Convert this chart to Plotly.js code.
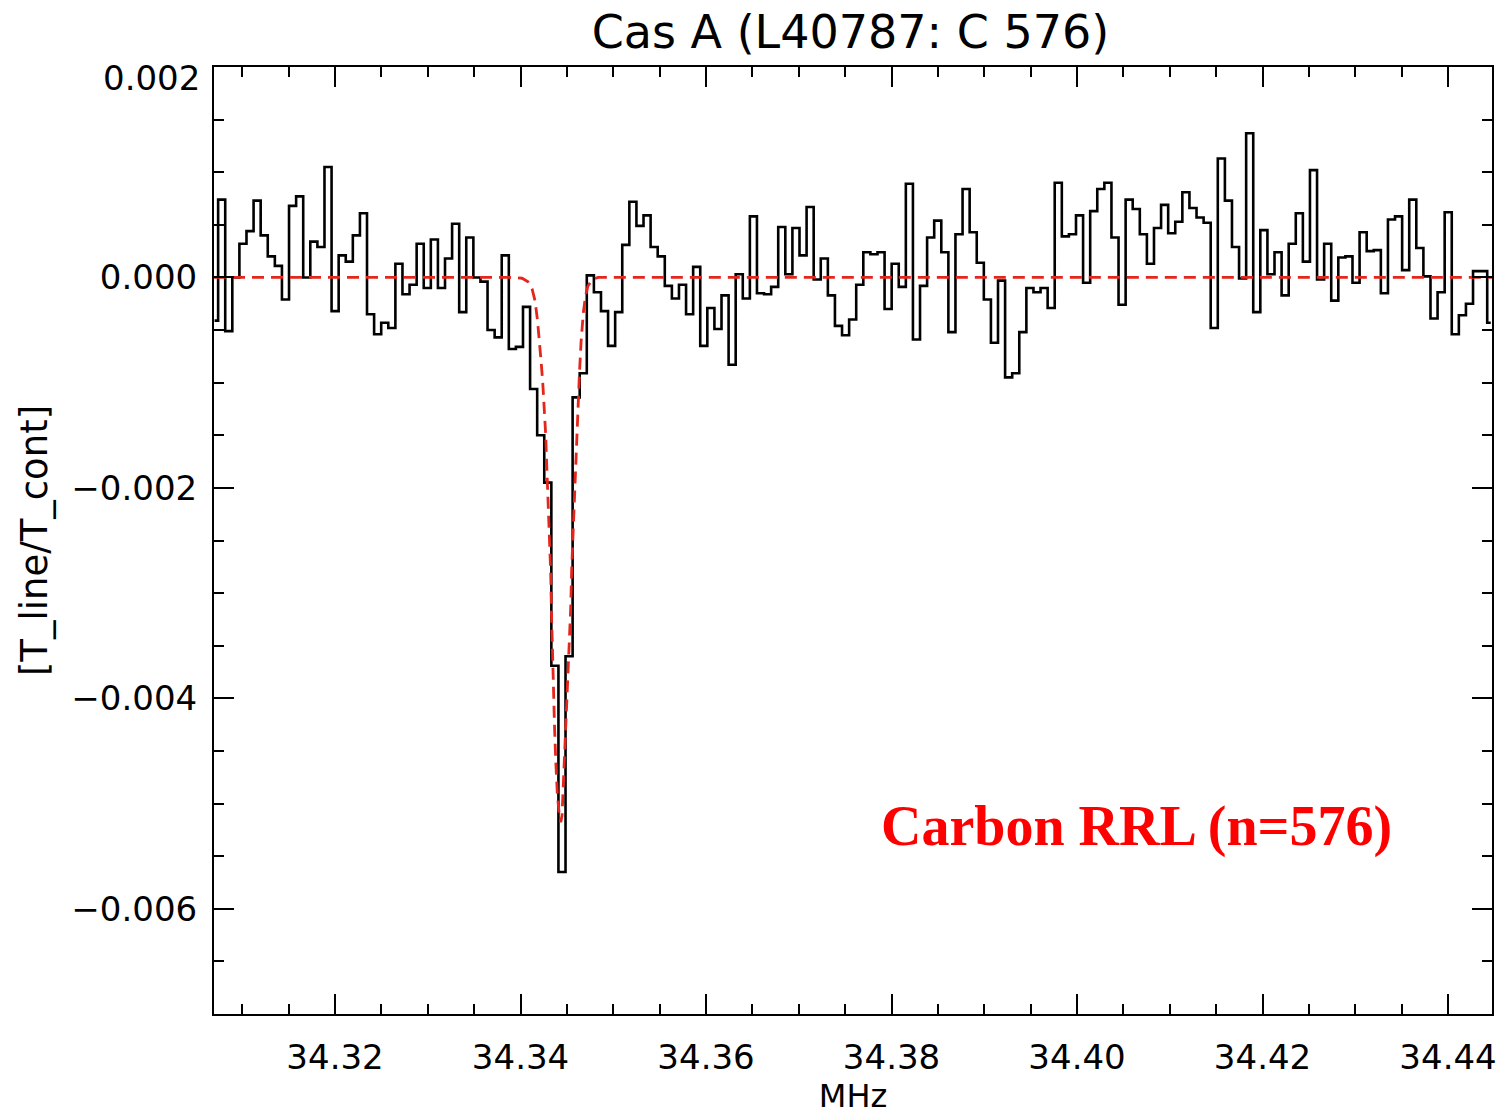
<!DOCTYPE html>
<html>
<head>
<meta charset="utf-8">
<script src="https://cdn.plot.ly/plotly-3.0.1.min.js"></script>
<style>
  html, body { margin: 0; padding: 0; background: #ffffff; }
  #chart { width: 1503px; height: 1116px; }
</style>
</head>
<body>
<div id="chart"></div>
<script>
// ---- Data ----
// Channel grid (MHz): centre of first channel and channel width
const firstChannelMHz = 34.307013;
const channelWidthMHz = 0.0007644;

// Spectrum: T_line/T_cont per channel
const lineToCont = [
  -0.00041, 0.00074, -0.00051, 0.00000, 0.00032, 0.00044, 0.00073, 0.00040, 0.00020, 0.00011,
  -0.00021, 0.00068, 0.00077, 0.00000, 0.00034, 0.00029, 0.00105, -0.00032, 0.00021, 0.00015,
  0.00040, 0.00061, -0.00035, -0.00054, -0.00043, -0.00048, 0.00013, -0.00016, -0.00007, 0.00032,
  -0.00010, 0.00036, -0.00010, 0.00018, 0.00051, -0.00033, 0.00038, 0.00000, -0.00004, -0.00050,
  -0.00057, 0.00021, -0.00068, -0.00066, -0.00028, -0.00106, -0.00150, -0.00195, -0.00369, -0.00565,
  -0.00360, -0.00114, -0.00091, 0.00002, -0.00014, -0.00032, -0.00065, -0.00033, 0.00031, 0.00072,
  0.00049, 0.00059, 0.00029, 0.00020, -0.00008, -0.00020, -0.00007, -0.00035, 0.00010, -0.00065,
  -0.00029, -0.00049, -0.00017, -0.00083, 0.00003, -0.00020, 0.00058, -0.00015, -0.00016, -0.00009,
  0.00048, 0.00003, 0.00047, 0.00021, 0.00067, -0.00002, 0.00018, -0.00017, -0.00046, -0.00055,
  -0.00040, -0.00007, 0.00024, 0.00022, 0.00024, -0.00030, 0.00013, -0.00009, 0.00089, -0.00059,
  -0.00008, 0.00038, 0.00054, 0.00024, -0.00052, 0.00041, 0.00084, 0.00043, 0.00014, -0.00021,
  -0.00062, -0.00003, -0.00095, -0.00091, -0.00052, -0.00010, -0.00014, -0.00010, -0.00029, 0.00090,
  0.00039, 0.00041, 0.00059, -0.00005, 0.00063, 0.00084, 0.00090, 0.00038, -0.00026, 0.00074,
  0.00065, 0.00041, 0.00013, 0.00047, 0.00069, 0.00042, 0.00053, 0.00081, 0.00066, 0.00057,
  0.00052, -0.00048, 0.00113, 0.00073, 0.00029, -0.00001, 0.00137, -0.00033, 0.00045, 0.00003,
  0.00024, -0.00017, 0.00032, 0.00061, 0.00015, 0.00102, -0.00002, 0.00032, -0.00022, 0.00019,
  0.00020, -0.00005, 0.00043, 0.00025, 0.00026, -0.00015, 0.00055, 0.00058, 0.00007, 0.00074,
  0.00028, 0.00001, -0.00039, -0.00014, 0.00062, -0.00054, -0.00036, -0.00025, 0.00006, 0.00006,
  -0.00043
];

// Fitted line profile (red dashed)
const fitMHz = [
  34.30695, 34.338868, 34.340162, 34.340809, 34.341240, 34.341563, 34.341833, 34.342049, 34.342210,
  34.342394, 34.342566, 34.342717, 34.342825, 34.342933, 34.343073, 34.343181, 34.343256, 34.343321,
  34.343396, 34.343482, 34.343569, 34.343666, 34.343795, 34.343968, 34.344183, 34.344334,
  34.344474, 34.344615, 34.344798, 34.344981, 34.345121, 34.345261, 34.345412, 34.345520, 34.345628,
  34.345768, 34.345952, 34.346167, 34.346340, 34.346523, 34.346771, 34.347008, 34.347278, 34.347784,
  34.348388, 34.44474
];
const fitValue = [
  0, 0, -0.0000076, -0.000041, -0.000107, -0.000221, -0.000411, -0.000601, -0.000791,
  -0.000998, -0.001250, -0.001504, -0.001789, -0.002043, -0.002295, -0.002549, -0.002815, -0.003135,
  -0.003452, -0.003705, -0.003958, -0.004275, -0.004592, -0.004908, -0.005114, -0.005178,
  -0.005114, -0.004829, -0.004465, -0.004148, -0.003832, -0.003515, -0.003135, -0.002755, -0.002502,
  -0.002105, -0.001663, -0.001219, -0.000934, -0.000618, -0.000333, -0.000174, -0.000079, -0.000015,
  0, 0
];

// Axis ranges and ticks
const xRange = [34.30695, 34.44474];
const yRange = [-0.007, 0.002];
const yMajorTicks = [-0.006, -0.004, -0.002, 0.000];
const yTopTickLabel = "0.002";

const titleText = "Cas A (L40787: C 576)";
const xTitle = "MHz";
const yTitle = "[T_line/T_cont]";
const noteText = "Carbon RRL (n=576)";
const notePos = { x: 34.40636, y: -0.00522 };

// ---- Build traces ----
const channelMHz = lineToCont.map((_, i) => firstChannelMHz + i * channelWidthMHz);

const spectrum = {
  x: channelMHz,
  y: lineToCont,
  type: "scatter",
  mode: "lines",
  line: { shape: "hvh", color: "#000000", width: 2.6 },
  hoverinfo: "x+y"
};

const fit = {
  x: fitMHz,
  y: fitValue,
  type: "scatter",
  mode: "lines",
  line: { color: "rgb(228,38,28)", width: 2.8, dash: "12px,7px" },
  hoverinfo: "x+y"
};

const axisFont = { family: "DejaVu Sans, sans-serif", size: 34, color: "#000" };

const layout = {
  width: 1503,
  height: 1116,
  margin: { l: 214, r: 11, t: 67, b: 102 },
  paper_bgcolor: "#ffffff",
  plot_bgcolor: "#ffffff",
  showlegend: false,
  title: {
    text: titleText,
    font: { family: "DejaVu Sans, sans-serif", size: 46, color: "#000" },
    x: 0.498, xref: "paper", xanchor: "center",
    y: 0.971, yref: "container", yanchor: "middle"
  },
  xaxis: {
    range: xRange,
    tick0: 34.32, dtick: 0.02,
    tickformat: ".2f",
    ticks: "inside", ticklen: 20, tickwidth: 2, tickcolor: "#000",
    minor: { dtick: 0.005, tick0: 34.32, ticks: "inside", ticklen: 10, tickwidth: 2, tickcolor: "#000", showgrid: false },
    mirror: "ticks",
    showline: true, linewidth: 2, linecolor: "#000",
    showgrid: false, zeroline: false,
    tickfont: axisFont,
    ticklabelstandoff: 12,
    title: { text: xTitle, font: { family: "DejaVu Sans, sans-serif", size: 32, color: "#000" }, standoff: 8 }
  },
  yaxis: {
    range: yRange,
    tickmode: "array",
    tickvals: yMajorTicks,
    tickformat: ".3f",
    ticks: "inside", ticklen: 20, tickwidth: 2, tickcolor: "#000",
    minor: { dtick: 0.0005, tick0: 0, ticks: "inside", ticklen: 10, tickwidth: 2, tickcolor: "#000", showgrid: false },
    mirror: "ticks",
    showline: true, linewidth: 2, linecolor: "#000",
    showgrid: false, zeroline: false,
    tickfont: axisFont,
    ticklabelstandoff: 8,
    title: { text: yTitle, font: { family: "DejaVu Sans, sans-serif", size: 37, color: "#000" }, standoff: 12 }
  },
  annotations: [
    {
      x: notePos.x, y: notePos.y, xref: "x", yref: "y",
      text: noteText, showarrow: false,
      xanchor: "center", yanchor: "middle",
      font: { family: "Liberation Serif, Times New Roman, serif", size: 56, color: "#ff0000", weight: "bold" }
    },
    {
      // top y tick label, drawn just below the top corner as in the original
      x: 0, xref: "paper", y: yRange[1], yref: "y",
      text: yTopTickLabel, showarrow: false,
      xanchor: "right", yanchor: "middle", xshift: -12, yshift: -11,
      font: axisFont
    }
  ]
};

Plotly.newPlot("chart", [spectrum, fit], layout, { displayModeBar: false, staticPlot: true });
</script>
</body>
</html>
